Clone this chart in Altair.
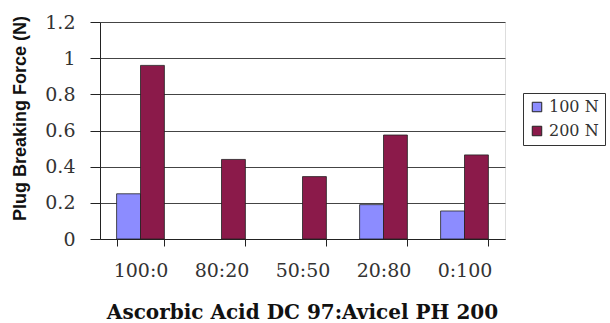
import altair as alt
import pandas as pd

categories = ["100:0", "80:20", "50:50", "20:80", "0:100"]
series = ["100 N", "200 N"]
values_100 = [0.25, None, None, 0.19, 0.155]
values_200 = [0.96, 0.44, 0.345, 0.575, 0.465]
colors = ["#8c8cff", "#8b1a4a"]

rows = []
for c, v1, v2 in zip(categories, values_100, values_200):
    if v1 is not None:
        rows.append({"ratio": c, "load": series[0], "force": v1})
    if v2 is not None:
        rows.append({"ratio": c, "load": series[1], "force": v2})
df = pd.DataFrame(rows)

serif = "DejaVu Serif"

chart = alt.Chart(df).mark_bar(stroke="#222", strokeWidth=0.8).encode(
    x=alt.X("ratio:N", sort=categories,
            scale=alt.Scale(paddingInner=0.41, paddingOuter=0.205),
            axis=alt.Axis(title="Ascorbic Acid DC 97:Avicel PH 200", labelAngle=0,
                          tickBand="extent", tickSize=7, tickColor="#222",
                          domainColor="#222", labelPadding=15,
                          labelFont=serif, labelFontSize=19, labelColor="#333",
                          titleFont=serif, titleFontSize=20, titleFontWeight="bold",
                          titleColor="#111", titleX=202, titleY=73,
                          titleBaseline="middle")),
    xOffset=alt.XOffset("load:N", sort=series),
    y=alt.Y("force:Q", scale=alt.Scale(domain=[0, 1.2], nice=False),
            axis=alt.Axis(title="Plug Breaking Force (N)", values=[0, 0.2, 0.4, 0.6, 0.8, 1.0, 1.2],
                          format=".1~f",
                          tickSize=10, tickColor="#222", domainColor="#222",
                          gridColor="#444", gridWidth=1, labelPadding=15,
                          labelFont=serif, labelFontSize=19, labelColor="#333",
                          titleFont="Liberation Sans", titleFontSize=18,
                          titleFontWeight="bold", titleColor="#111",
                          titleX=-80, titleY=96, titleBaseline="middle")),
    color=alt.Color("load:N", sort=series,
                    scale=alt.Scale(domain=series, range=colors),
                    legend=alt.Legend(title=None, orient="none", legendX=423, legendY=71,
                                      strokeColor="#333", padding=6, fillColor="white",
                                      symbolType="square", symbolSize=90,
                                      symbolStrokeColor="#222", symbolStrokeWidth=1,
                                      labelFont=serif, labelFontSize=16, labelColor="#333",
                                      rowPadding=8, labelOffset=4)),
).properties(
    width=405, height=217,
    autosize=alt.AutoSizeParams(type="none"),
    padding={"left": 100, "top": 22, "right": 105, "bottom": 84},
).configure_view(stroke=None).configure(background="white")

chart.save("out.html", embed_options={"renderer": "svg", "actions": False})
